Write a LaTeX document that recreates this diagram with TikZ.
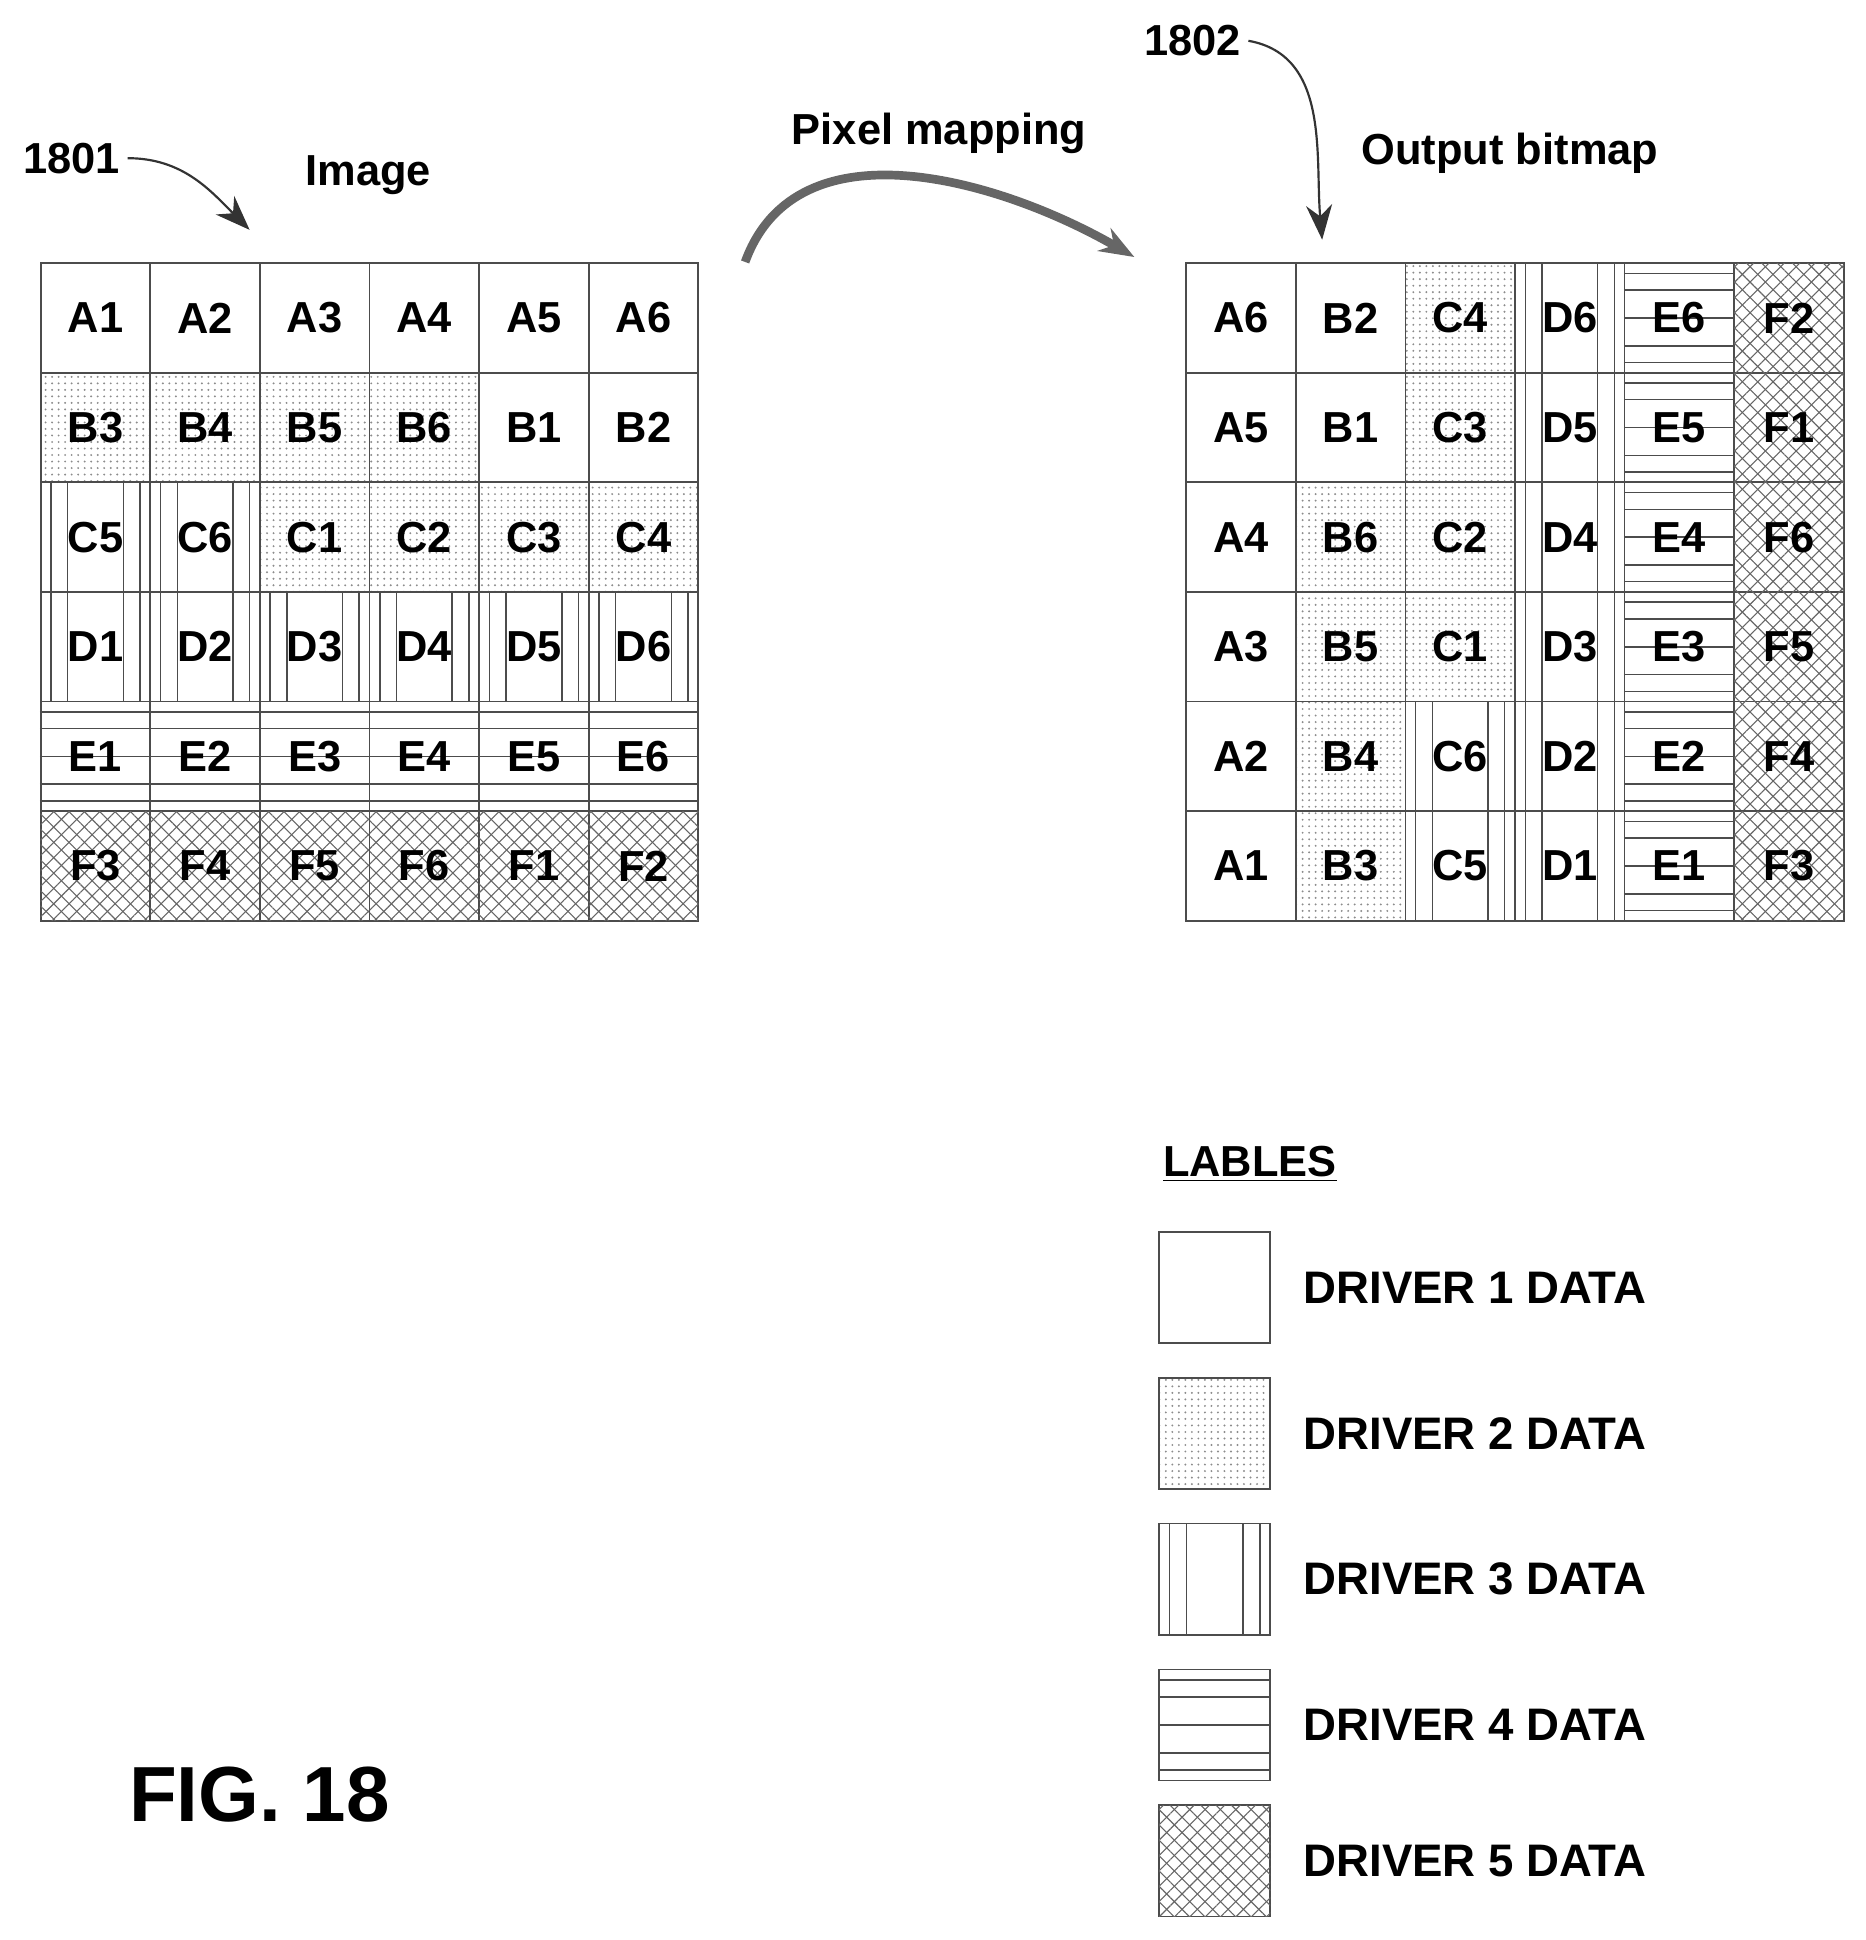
\documentclass[tikz,border=0pt]{standalone}
\usepackage{fontspec}
\setmainfont{Liberation Sans}
\usetikzlibrary{arrows.meta,patterns,patterns.meta,positioning,calc}

\tikzset{
  cell/.style={draw=black!70, line width=0.8pt, minimum size=1.774cm, inner sep=0pt,
               font=\fontsize{20}{24}\selectfont\bfseries},
  drv1/.style={fill=white},
  drv2/.style={pattern=dots, pattern color=black!45},
  drv3/.style={fill=white},
  drv4/.style={fill=white},
  drv5/.style={postaction={pattern={Lines[angle=45,distance=5pt,line width=0.5pt]}, pattern color=black!60},
               postaction={pattern={Lines[angle=-45,distance=5pt,line width=0.5pt]}, pattern color=black!60}},
  lbl/.style={font=\fontsize{20}{24}\selectfont\bfseries},
  ptr/.style={-{Stealth[length=16pt,width=12pt]}, line width=1pt, black!80}
}

% vertical / horizontal stripes inside a named cell
\newcommand{\vstripes}[1]{%
  \foreach \f in {0.1,0.25,0.75,0.9}
    \draw[black!70,line width=0.7pt] ($(#1.south west)!\f!(#1.south east)$) -- ($(#1.north west)!\f!(#1.north east)$);}
\newcommand{\hstripes}[1]{%
  \foreach \f in {0.1,0.25,0.5,0.75,0.9}
    \draw[black!70,line width=0.7pt] ($(#1.north west)!\f!(#1.south west)$) -- ($(#1.north east)!\f!(#1.south east)$);}

\begin{document}
\begin{tikzpicture}[x=0.02cm,y=-0.02cm]
  \useasboundingbox (0,0) rectangle (1510,1570);
  % input image
  \foreach \row/\list [count=\r from 0] in {
      A/{A1/1,A2/1,A3/1,A4/1,A5/1,A6/1},
      B/{B3/2,B4/2,B5/2,B6/2,B1/1,B2/1},
      C/{C5/3,C6/3,C1/2,C2/2,C3/2,C4/2},
      D/{D1/3,D2/3,D3/3,D4/3,D5/3,D6/3},
      E/{E1/4,E2/4,E3/4,E4/4,E5/4,E6/4},
      F/{F3/5,F4/5,F5/5,F6/5,F1/5,F2/5}}{
    \foreach \name/\t [count=\c from 0] in \list {
      \node[cell, drv\t] (L-\name) at ({77.3+88.7*\c},{257.3+88.7*\r}) {};
      \ifnum\t=3 \vstripes{L-\name}\fi
      \ifnum\t=4 \hstripes{L-\name}\fi
      \node[lbl] at (L-\name) {\name};
    }
  }
  % output bitmap
  \foreach \col/\list [count=\c from 0] in {
      A/{A6/1,A5/1,A4/1,A3/1,A2/1,A1/1},
      B/{B2/1,B1/1,B6/2,B5/2,B4/2,B3/2},
      C/{C4/2,C3/2,C2/2,C1/2,C6/3,C5/3},
      D/{D6/3,D5/3,D4/3,D3/3,D2/3,D1/3},
      E/{E6/4,E5/4,E4/4,E3/4,E2/4,E1/4},
      F/{F2/5,F1/5,F6/5,F5/5,F4/5,F3/5}}{
    \foreach \name/\t [count=\r from 0] in \list {
      \node[cell, drv\t] (R-\name) at ({1004.3+88.7*\c},{257.3+88.7*\r}) {};
      \ifnum\t=3 \vstripes{R-\name}\fi
      \ifnum\t=4 \hstripes{R-\name}\fi
      \node[lbl] at (R-\name) {\name};
    }
  }
  % titles and pointers
  \node[lbl] (image) at (298,142) {Image};
  \node[lbl] (ref1801) at (58,128) {1801};
  \node[lbl] (mapping) at (760,108) {Pixel mapping};
  \node[lbl] (outbmp) at (1222,124) {Output bitmap};
  \node[lbl] (ref1802) at (965,33) {1802};
  \coordinate (tip1801) at (202,186);
  \coordinate (tip1802) at (1070,194);
  \coordinate (mapfrom) at (603,212);
  \coordinate (mapto) at (918,208);
  \draw[ptr] (ref1801.east) to[out=0,in=135] (tip1801);
  \draw[ptr] (ref1802.east) to[out=-10,in=95] (tip1802);
  \draw[ptr, line width=4pt, black!60] (mapfrom) to[out=70,in=150] (mapto);
  % legend
  \node[lbl, anchor=west] (legend) at (935,942) {\underline{LABLES}};
  \foreach \t/\y in {1/1042,2/1160,3/1278,4/1396,5/1506}{
    \node[cell, drv\t, minimum size=1.8cm] (key\t) at (983,\y) {};
    \ifnum\t=3 \vstripes{key\t}\fi
    \ifnum\t=4 \hstripes{key\t}\fi
    \node[lbl, anchor=west, right=0.4cm of key\t, font=\fontsize{21}{25}\selectfont\bfseries] (keytext\t) {DRIVER \t\ DATA};
  }
  \node[font=\fontsize{36}{40}\selectfont\bfseries] (fig) at (210,1452) {FIG. 18};
\end{tikzpicture}
\end{document}
